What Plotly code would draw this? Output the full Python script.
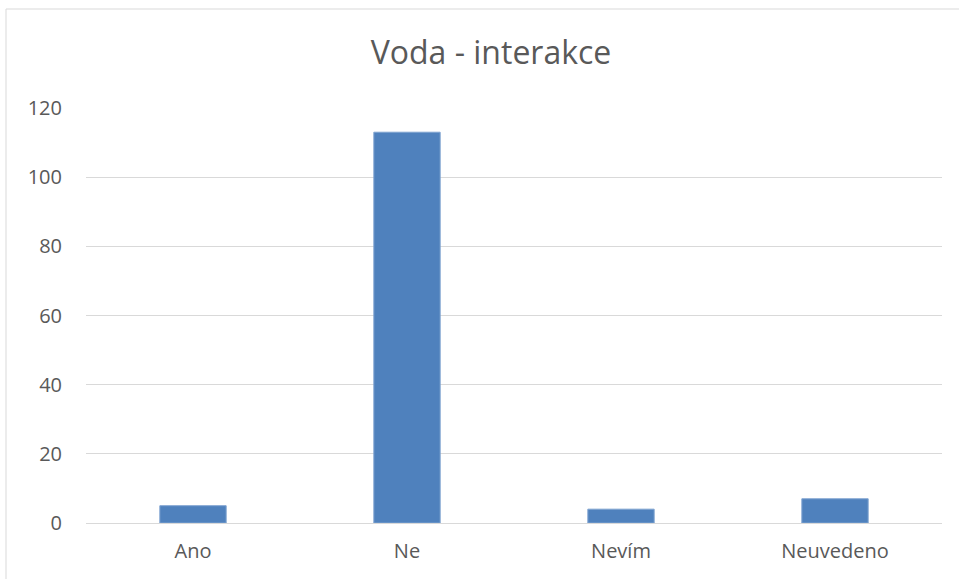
import plotly.graph_objects as go

categories = ["Ano", "Ne", "Nevím", "Neuvedeno"]
values = [5, 113, 4, 7]
y_ticks = [0, 20, 40, 60, 80, 100, 120]

W, H = 959, 579
L, R, T, B = 86, 17, 108, 56
pw, ph = W - L - R, H - T - B

def px_x(x):
    return (x - L) / pw

def px_y(y):
    return 1 - (y - T) / ph

fig = go.Figure(
    go.Bar(
        x=categories,
        y=values,
        marker=dict(color="#4F81BD", line=dict(color="#7FA3D1", width=1)),
        width=0.31,
        hoverinfo="x+y",
    )
)

fig.update_layout(
    width=W,
    height=H,
    margin=dict(l=L, r=R, t=T, b=B),
    paper_bgcolor="white",
    plot_bgcolor="white",
    font=dict(family="Open Sans, Liberation Sans, sans-serif", color="#595959"),
    title=dict(
        text="Voda - interakce",
        x=px_x(491),
        xref="paper",
        xanchor="center",
        y=1 - 53 / H,
        yanchor="middle",
        font=dict(size=32, color="#595959"),
    ),
    showlegend=False,
    bargap=0.69,
)

fig.update_xaxes(
    showgrid=False,
    showline=False,
    ticks="",
    tickfont=dict(size=20, color="#595959"),
    ticklabelstandoff=14,
)
fig.update_yaxes(
    range=[0, 120],
    tickvals=y_ticks,
    showgrid=True,
    gridcolor="#D9D9D9",
    gridwidth=1,
    zeroline=True,
    zerolinecolor="#D9D9D9",
    zerolinewidth=1,
    showline=False,
    ticks="",
    tickfont=dict(size=20, color="#595959"),
    ticklabelstandoff=23,
)

# Outer chart frame
fig.add_shape(
    type="rect",
    xref="paper",
    yref="paper",
    x0=px_x(6),
    x1=px_x(W + 20),
    y0=px_y(H + 20),
    y1=px_y(9),
    line=dict(color="#D9D9D9", width=1),
    fillcolor="rgba(0,0,0,0)",
    layer="below",
)

fig.write_html("out.html")
